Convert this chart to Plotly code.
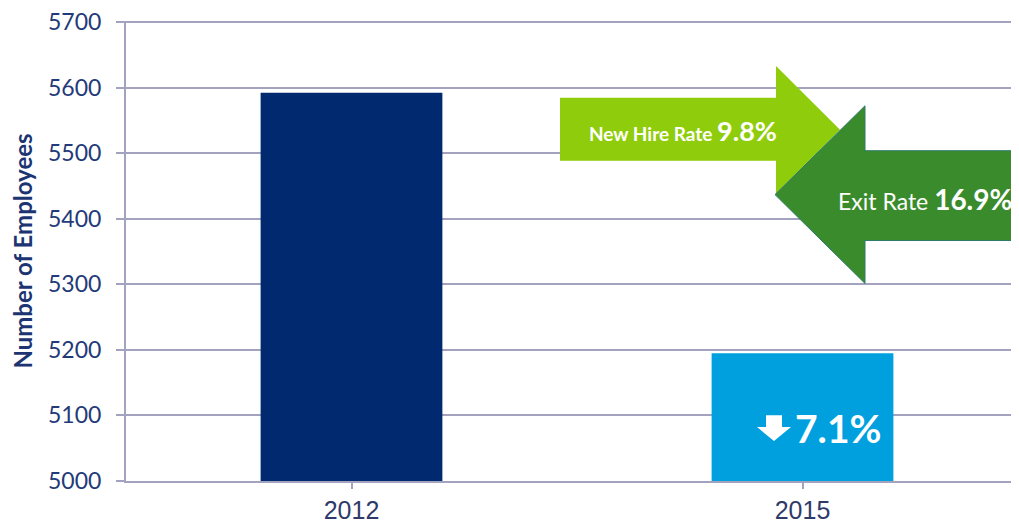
import plotly.graph_objects as go

years = ["2012", "2015"]
employees = [5592, 5195]
bar_colors = ["#01296f", "#00a0df"]
y_ticks = [5000, 5100, 5200, 5300, 5400, 5500, 5600, 5700]
new_hire_label = "New Hire Rate"
new_hire_rate = "9.8%"
exit_label = "Exit Rate"
exit_rate = "16.9%"
change_label = "7.1%"

# page has an 8px body margin: figure origin sits at (8, 8) of the window
OFF = 8
W, H = 1019 - OFF, 525 - OFF
L, T = 126 - OFF, 21 - OFF
B = H - (481 - OFF)
ppu_y = (481 - 21) / 700.0
cat_px = 451.0

def X(px):  # window pixel -> data x
    return -0.5 + (px - 126) / cat_px

def Y(py):  # window pixel -> data y
    return 5700 - (py - 21) / ppu_y

def path(points):
    return "M " + " L ".join(f"{X(a):.5f},{Y(b):.3f}" for a, b in points) + " Z"

fig = go.Figure(go.Bar(x=[0, 1], y=employees, width=0.403, marker_color=bar_colors,
                       marker_line_width=0, hoverinfo="skip"))

navy = "#233a78"
grid = "#a3a3c0"

shapes = []
# top gridline (plotly skips the grid line at the very edge of the range)
shapes.append(dict(type="line", xref="paper", yref="y", x0=0, x1=1, y0=y_ticks[-1], y1=y_ticks[-1],
                   line=dict(color=grid, width=2), layer="below"))
# new hire arrow (light green, pointing right)
shapes.append(dict(type="path", xref="x", yref="y", fillcolor="#8fcd0c", line_width=0,
                   path=path([(560, 97), (776, 97), (776, 65), (840, 129), (776, 193), (776, 160), (560, 160)])))
# exit arrow (dark green, pointing left)
shapes.append(dict(type="path", xref="x", yref="y", fillcolor="#3a8b2c", line=dict(color="#2f7a6a", width=1),
                   path=path([(1030, 150), (865, 150), (865, 105), (775, 194), (865, 283), (865, 240), (1030, 240)])))
# down arrow on 2015 bar
shapes.append(dict(type="path", xref="x", yref="y", fillcolor="white", line_width=0,
                   path=path([(766, 415), (782, 415), (782, 427), (791, 427), (774, 441), (757, 427), (766, 427)])))

annotations = [
    dict(xref="x", yref="y", x=X(683), y=Y(130), showarrow=False,
         text=f"<b>{new_hire_label} <span style='font-size:27px'>{new_hire_rate}</span></b>",
         font=dict(family="Lato", size=19, color="white")),
    dict(xref="x", yref="y", x=X(925), y=Y(198), showarrow=False,
         text=f"{exit_label} <b><span style='font-size:28px'>{exit_rate}</span></b>",
         font=dict(family="Lato", size=23, color="white")),
    dict(xref="x", yref="y", x=X(838), y=Y(428), showarrow=False,
         text=f"<b>{change_label}</b>",
         font=dict(family="Lato", size=39, color="white")),
]

fig.update_layout(
    width=W, height=H,
    margin=dict(l=L, r=0, t=T, b=B, pad=0, autoexpand=False),
    paper_bgcolor="white", plot_bgcolor="white",
    showlegend=False,
    shapes=shapes, annotations=annotations,
    xaxis=dict(range=[-0.5, X(1019)], tickmode="array", tickvals=[0, 1], ticktext=years,
               tickson="boundaries", ticks="outside", ticklen=6, tickcolor=grid, tickwidth=2,
               showline=True, linecolor=grid, linewidth=2, showgrid=False, zeroline=False,
               tickfont=dict(family="Liberation Sans", size=25, color="#2e3a6a")),
    yaxis=dict(range=[5000, 5701.5], tickvals=y_ticks, ticks="outside", ticklen=8, tickcolor=grid,
               tickwidth=2, showline=True, linecolor=grid, linewidth=2, showgrid=True,
               gridcolor=grid, gridwidth=2, zeroline=False, ticklabelstandoff=10,
               ticklabeloverflow="allow",
               tickfont=dict(family="Lato", size=23, color=navy),
               title=dict(text="<b>Number of Employees</b>", standoff=12,
                          font=dict(family="Lato", size=24, color="#1c3472"))),
)

fig.write_html("out.html")
